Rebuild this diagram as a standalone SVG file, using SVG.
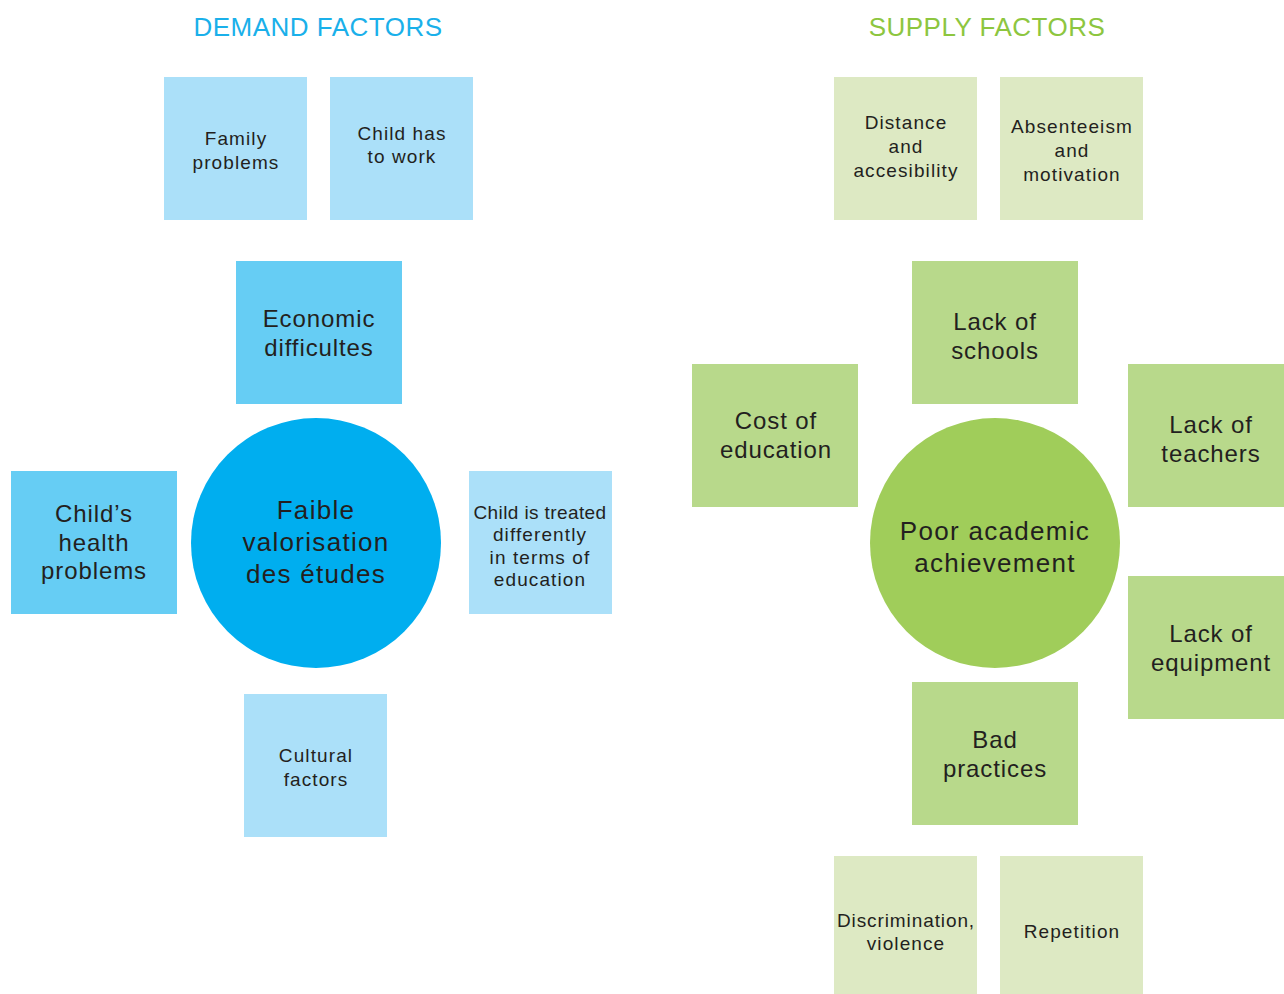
<svg xmlns="http://www.w3.org/2000/svg" width="1284" height="994" viewBox="0 0 1284 994">
<style>
text{font-family:"Liberation Sans",Arial,sans-serif;fill:#231f20;text-anchor:middle}
.s{font-size:19px;letter-spacing:1.1px}
.m{font-size:24px;letter-spacing:0.9px}
.c{font-size:26px;letter-spacing:1.3px}
.t{font-size:26px;letter-spacing:0.5px}
.lb{fill:#abe0f9}
.mb{fill:#66cdf4}
.db{fill:#00aeef}
.lg{fill:#dde9c3}
.mg{fill:#b8d98b}
.dg{fill:#a0cd5a}
</style>
<rect width="1284" height="994" fill="#fff"/>
<text class="t" x="318" y="36" style="fill:#1ab0ea">DEMAND FACTORS</text>
<text class="t" x="987" y="36" style="fill:#8dc63f">SUPPLY FACTORS</text>
<g id="family"><rect class="lb" x="164" y="77" width="143" height="143"/><text class="s" x="236" y="145">Family</text><text class="s" x="236" y="169">problems</text></g>
<g id="work"><rect class="lb" x="330" y="77" width="143" height="143"/><text class="s" x="402" y="140">Child has</text><text class="s" x="402" y="163">to work</text></g>
<g id="economic"><rect class="mb" x="236" y="261" width="166" height="143"/><text class="m" x="319" y="327">Economic</text><text class="m" x="319" y="356">difficultes</text></g>
<g id="health"><rect class="mb" x="11" y="471" width="166" height="143"/><text class="m" x="94" y="522">Child’s</text><text class="m" x="94" y="551">health</text><text class="m" x="94" y="579">problems</text></g>
<g id="faible"><circle class="db" cx="316" cy="543" r="125"/><text class="c" x="316" y="519">Faible</text><text class="c" x="316" y="551">valorisation</text><text class="c" x="316" y="583">des études</text></g>
<g id="treated"><rect class="lb" x="469" y="471" width="143" height="143"/><text class="s" x="540" y="519" style="letter-spacing:0.4px">Child is treated</text><text class="s" x="540" y="541">differently</text><text class="s" x="540" y="564">in terms of</text><text class="s" x="540" y="586">education</text></g>
<g id="cultural"><rect class="lb" x="244" y="694" width="143" height="143"/><text class="s" x="316" y="762">Cultural</text><text class="s" x="316" y="786">factors</text></g>

<g id="distance"><rect class="lg" x="834" y="77" width="143" height="143"/><text class="s" x="906" y="129">Distance</text><text class="s" x="906" y="153">and</text><text class="s" x="906" y="177">accesibility</text></g>
<g id="absent"><rect class="lg" x="1000" y="77" width="143" height="143"/><text class="s" x="1072" y="133">Absenteeism</text><text class="s" x="1072" y="157">and</text><text class="s" x="1072" y="181">motivation</text></g>
<g id="schools"><rect class="mg" x="912" y="261" width="166" height="143"/><text class="m" x="995" y="330">Lack of</text><text class="m" x="995" y="359">schools</text></g>
<g id="cost"><rect class="mg" x="692" y="364" width="166" height="143"/><text class="m" x="776" y="429">Cost of</text><text class="m" x="776" y="458">education</text></g>
<g id="teachers"><rect class="mg" x="1128" y="364" width="156" height="143"/><text class="m" x="1211" y="433">Lack of</text><text class="m" x="1211" y="462">teachers</text></g>
<g id="poor"><circle class="dg" cx="995" cy="543" r="125"/><text class="c" x="995" y="540">Poor academic</text><text class="c" x="995" y="572">achievement</text></g>
<g id="equipment"><rect class="mg" x="1128" y="576" width="156" height="143"/><text class="m" x="1211" y="642">Lack of</text><text class="m" x="1211" y="671">equipment</text></g>
<g id="practices"><rect class="mg" x="912" y="682" width="166" height="143"/><text class="m" x="995" y="748">Bad</text><text class="m" x="995" y="777">practices</text></g>
<g id="discrimination"><rect class="lg" x="834" y="856" width="143" height="138"/><text class="s" x="906" y="927" style="letter-spacing:0.9px">Discrimination,</text><text class="s" x="906" y="950">violence</text></g>
<g id="repetition"><rect class="lg" x="1000" y="856" width="143" height="138"/><text class="s" x="1072" y="938">Repetition</text></g>
<g id="connectors"/>
</svg>
